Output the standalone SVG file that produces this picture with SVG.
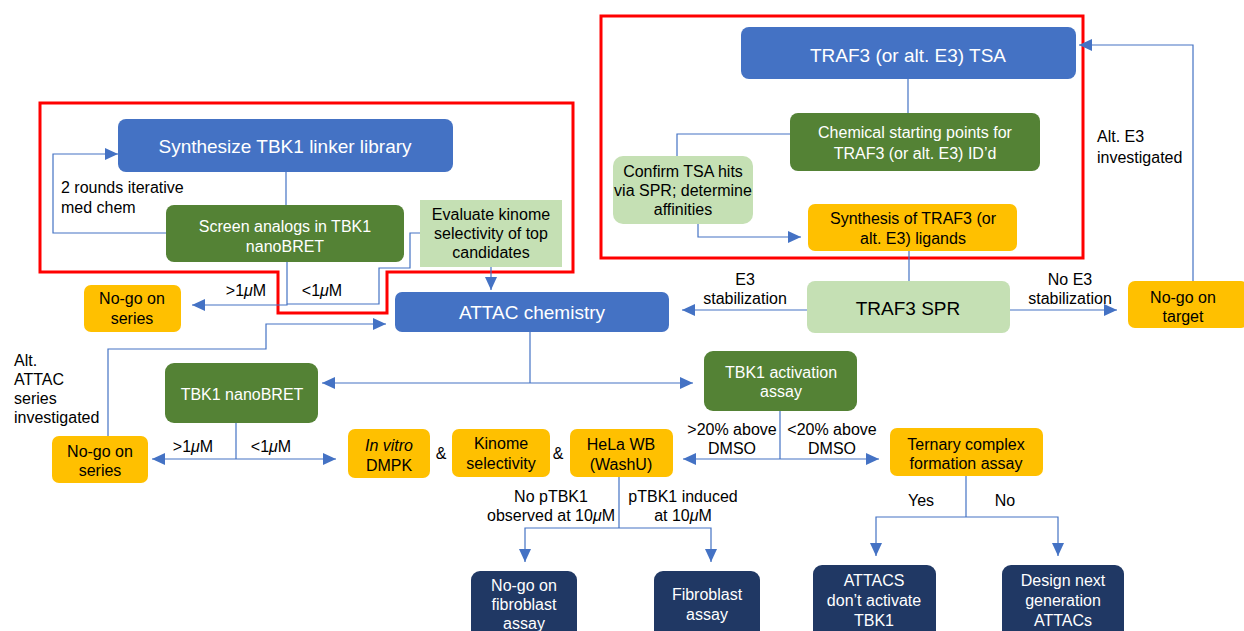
<svg xmlns="http://www.w3.org/2000/svg" width="1244" height="631" viewBox="0 0 1244 631">
<defs>
<marker id="ah" viewBox="0 0 13 12" refX="13" refY="6" markerWidth="13" markerHeight="12" markerUnits="userSpaceOnUse" orient="auto">
<path d="M0,0 L13,6 L0,12 Z" fill="#4472C4"/>
</marker>
<style>
text{font-family:"Liberation Sans",Arial,sans-serif;font-size:16px;fill:#000;text-anchor:middle}
.w{fill:#fff}
.big{font-size:19px}
.lbl{text-anchor:start}
.blue{fill:#4472C4}
.dg{fill:#548235}
.lg{fill:#C5E0B4}
.or{fill:#FFC000}
.nv{fill:#203864}
.c{fill:none;stroke:#4472C4;stroke-width:1.2}
.a{marker-end:url(#ah)}
.red{fill:none;stroke:#FF0000;stroke-width:3}
</style>
</defs>
<rect width="1244" height="631" fill="#fff"/>

<g id="highlights">
<path class="red" d="M40,103 H573 V272 H387 V313 H278 V272 H40 Z"/>
<rect class="red" x="601" y="16" width="482" height="242"/>
</g>

<g id="connectors">
<path class="c a" d="M166,233 H53 V154 H118"/>
<path class="c" d="M286,172 V205"/>
<path class="c a" d="M287,262 V305 H192"/>
<path class="c" d="M287,304 H379 V268 H410 V233 H420"/>
<path class="c a" d="M491,267 V290"/>
<path class="c a" d="M807,310 H682"/>
<path class="c a" d="M108,436 V349 H266 V324 H386"/>
<path class="c" d="M530,332 V383"/>
<path class="c a" d="M530,383 H322"/>
<path class="c a" d="M530,383 H693"/>
<path class="c" d="M236,423 V459"/>
<path class="c a" d="M236,459 H152"/>
<path class="c a" d="M236,459 H336"/>
<path class="c" d="M780,411 V459"/>
<path class="c a" d="M780,459 H683"/>
<path class="c a" d="M780,459 H879"/>
<path class="c" d="M619,477 V528"/>
<path class="c a" d="M619,528 H525 V562"/>
<path class="c a" d="M619,528 H711 V562"/>
<path class="c" d="M966,476 V517"/>
<path class="c a" d="M966,517 H876 V556"/>
<path class="c a" d="M966,517 H1058 V556"/>
<path class="c" d="M908,79 V113"/>
<path class="c" d="M790,134 H677 V156"/>
<path class="c a" d="M698,224 V237 H801"/>
<path class="c" d="M909,251 V281"/>
<path class="c a" d="M1010,310 H1117"/>
<path class="c a" d="M1193,281 V45 H1079"/>
</g>

<g id="labels">
<text class="lbl" x="61" y="193">2 rounds iterative</text>
<text class="lbl" x="61" y="213">med chem</text>
<text x="246" y="296">&gt;1<tspan font-style="italic">μ</tspan>M</text>
<text x="322" y="296">&lt;1<tspan font-style="italic">μ</tspan>M</text>
<text class="lbl" x="14" y="366">Alt.</text>
<text class="lbl" x="14" y="385">ATTAC</text>
<text class="lbl" x="14" y="404">series</text>
<text class="lbl" x="14" y="423">investigated</text>
<text x="745" y="285">E3</text>
<text x="745" y="304">stabilization</text>
<text x="1070" y="285">No E3</text>
<text x="1070" y="304">stabilization</text>
<text class="lbl" x="1097" y="142">Alt. E3</text>
<text class="lbl" x="1097" y="163">investigated</text>
<text x="193" y="452">&gt;1<tspan font-style="italic">μ</tspan>M</text>
<text x="271" y="452">&lt;1<tspan font-style="italic">μ</tspan>M</text>
<text x="441" y="459">&amp;</text>
<text x="558" y="459">&amp;</text>
<text x="732" y="435">&gt;20% above</text>
<text x="732" y="454">DMSO</text>
<text x="832" y="435">&lt;20% above</text>
<text x="832" y="454">DMSO</text>
<text x="551" y="502">No pTBK1</text>
<text x="551" y="521">observed at 10<tspan font-style="italic">μ</tspan>M</text>
<text x="683" y="502">pTBK1 induced</text>
<text x="683" y="521">at 10<tspan font-style="italic">μ</tspan>M</text>
<text x="921" y="506">Yes</text>
<text x="1005" y="506">No</text>
</g>

<g id="n-synth"><rect class="blue" x="118" y="119" width="335" height="53" rx="8"/><text class="w big" x="285" y="153">Synthesize TBK1 linker library</text></g>
<g id="n-screen"><rect class="dg" x="166" y="205" width="238" height="57" rx="8"/><text class="w" x="285" y="232">Screen analogs in TBK1</text><text class="w" x="285" y="252">nanoBRET</text></g>
<g id="n-evaluate"><rect class="lg" x="420" y="200" width="142" height="67"/><text x="491" y="220">Evaluate kinome</text><text x="491" y="239">selectivity of top</text><text x="491" y="258">candidates</text></g>
<g id="n-nogo1"><rect class="or" x="84" y="285" width="97" height="47" rx="7"/><text x="132" y="304">No-go on</text><text x="132" y="324">series</text></g>
<g id="n-attac"><rect class="blue" x="395" y="292" width="274" height="40" rx="7"/><text class="w big" x="532" y="319">ATTAC chemistry</text></g>
<g id="n-tsa"><rect class="blue" x="741" y="27" width="335" height="52" rx="8"/><text class="w big" x="908" y="62">TRAF3 (or alt. E3) TSA</text></g>
<g id="n-chem"><rect class="dg" x="790" y="113" width="250" height="58" rx="8"/><text class="w" x="915" y="138">Chemical starting points for</text><text class="w" x="915" y="159">TRAF3 (or alt. E3) ID’d</text></g>
<g id="n-confirm"><rect class="lg" x="613" y="156" width="140" height="68" rx="10"/><text x="683" y="177">Confirm TSA hits</text><text x="683" y="196">via SPR; determine</text><text x="683" y="215">affinities</text></g>
<g id="n-synthlig"><rect class="or" x="808" y="204" width="209" height="47" rx="7"/><text x="913" y="224">Synthesis of TRAF3 (or</text><text x="913" y="244">alt. E3) ligands</text></g>
<g id="n-spr"><rect class="lg" x="807" y="281" width="203" height="52" rx="8"/><text class="big" x="908" y="315">TRAF3 SPR</text></g>
<g id="n-nogotarget"><rect class="or" x="1128" y="281" width="120" height="47" rx="7"/><text x="1183" y="303">No-go on</text><text x="1183" y="322">target</text></g>
<g id="n-nanobret"><rect class="dg" x="165" y="363" width="153" height="60" rx="9"/><text class="w" x="242" y="400">TBK1 nanoBRET</text></g>
<g id="n-activation"><rect class="dg" x="704" y="351" width="153" height="60" rx="9"/><text class="w" x="781" y="378">TBK1 activation</text><text class="w" x="781" y="397">assay</text></g>
<g id="n-nogo2"><rect class="or" x="52" y="436" width="96" height="47" rx="7"/><text x="100" y="457">No-go on</text><text x="100" y="476">series</text></g>
<g id="n-dmpk"><rect class="or" x="348" y="429" width="82" height="49" rx="7"/><text x="389" y="451" font-style="italic">In vitro</text><text x="389" y="471">DMPK</text></g>
<g id="n-kinome"><rect class="or" x="452" y="429" width="98" height="48" rx="7"/><text x="501" y="449">Kinome</text><text x="501" y="469">selectivity</text></g>
<g id="n-hela"><rect class="or" x="570" y="429" width="103" height="48" rx="7"/><text x="621" y="450">HeLa WB</text><text x="621" y="470">(WashU)</text></g>
<g id="n-ternary"><rect class="or" x="890" y="428" width="153" height="48" rx="7"/><text x="966" y="450">Ternary complex</text><text x="966" y="469">formation assay</text></g>
<g id="n-nogofib"><rect class="nv" x="471" y="571" width="106" height="70" rx="9"/><text class="w" x="524" y="591">No-go on</text><text class="w" x="524" y="610">fibroblast</text><text class="w" x="524" y="629">assay</text></g>
<g id="n-fib"><rect class="nv" x="654" y="571" width="106" height="70" rx="9"/><text class="w" x="707" y="600">Fibroblast</text><text class="w" x="707" y="620">assay</text></g>
<g id="n-noact"><rect class="nv" x="813" y="565" width="123" height="76" rx="9"/><text class="w" x="874" y="586">ATTACS</text><text class="w" x="874" y="606">don’t activate</text><text class="w" x="874" y="626">TBK1</text></g>
<g id="n-design"><rect class="nv" x="1002" y="565" width="122" height="76" rx="9"/><text class="w" x="1063" y="586">Design next</text><text class="w" x="1063" y="606">generation</text><text class="w" x="1063" y="626">ATTACs</text></g>
</svg>
